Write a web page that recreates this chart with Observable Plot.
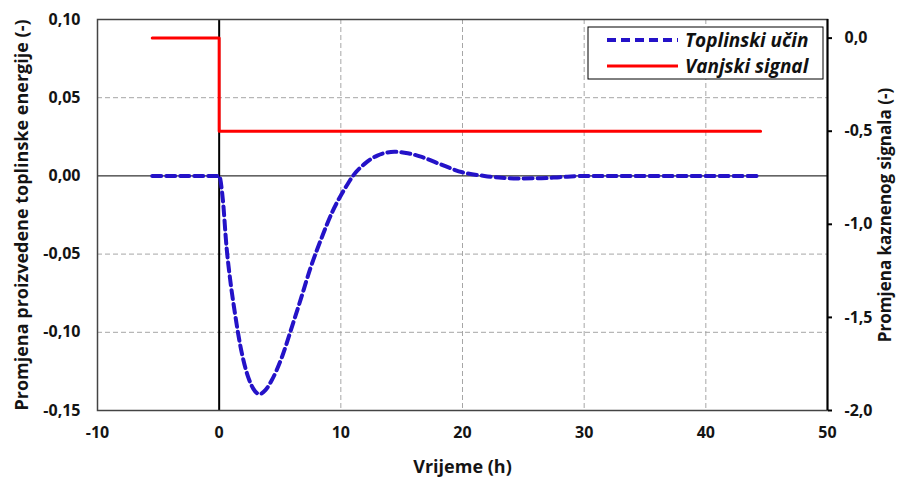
<!DOCTYPE html>
<html>
<head>
<meta charset="utf-8">
<script src="https://cdn.jsdelivr.net/npm/d3@7"></script>
<script src="https://cdn.jsdelivr.net/npm/@observablehq/plot@0.6"></script>
<style>
  html, body { margin: 0; padding: 0; background: #fff; }
  #chart { width: 899px; height: 477px; }
</style>
</head>
<body>
<div id="chart"></div>
<script>
// ---- Data ----
const xTicks = [-10, 0, 10, 20, 30, 40, 50];
const leftTicks = [0.10, 0.05, 0.00, -0.05, -0.10, -0.15];
const rightTicks = [0.0, -0.5, -1.0, -1.5, -2.0];
const leftDomain = [-0.15, 0.10];
const rightDomain = [-2.0, 0.1];

// Toplinski učin (left axis)
const heatTime = [-5.5, 0, 0.3, 0.6, 0.9, 1.3, 1.7, 2.0, 2.4, 2.8, 3.3, 3.8, 4.3, 5.2, 6.0, 6.7, 7.5, 8.4, 9.3, 10.0, 10.5, 11.0, 12.0, 13.0, 14.4, 15.5, 16.5, 18.0, 20.0, 21.8, 23.0, 24.5, 26.5, 28.0, 30.0, 35.0, 40.0, 44.5];
const heatValue = [0, 0, -0.015, -0.045, -0.066, -0.088, -0.107, -0.118, -0.129, -0.136, -0.1395, -0.137, -0.131, -0.115, -0.096, -0.079, -0.059, -0.040, -0.023, -0.0125, -0.006, 0, 0.008, 0.0130, 0.0154, 0.0145, 0.0125, 0.0080, 0.0023, 0, -0.0010, -0.0016, -0.0015, -0.0008, 0, 0, 0, 0];

// Vanjski signal (right axis)
const signalTime = [-5.5, 0, 44.5];
const signalValue = [0.0, -0.5, -0.5];

const legendLabels = ["Toplinski učin", "Vanjski signal"];
const blue = "#2412c8";
const red = "#ff0000";
const font = "'Open Sans', 'Liberation Sans', sans-serif";
const ink = "#141414";

// ---- Build ----
const toLeft = d3.scaleLinear().domain(rightDomain).range(leftDomain);
const toRight = d3.scaleLinear().domain(leftDomain).range(rightDomain);
const comma = (s) => s.replace(".", ",").replace("−", "-");

const heat = heatTime.map((t, i) => ({t, v: heatValue[i]}));
const signal = signalTime.map((t, i) => ({t, v: toLeft(signalValue[i])}));

const svg = Plot.plot({
  width: 899,
  height: 477,
  marginLeft: 97,
  marginRight: 72,
  marginTop: 19,
  marginBottom: 67,
  style: {fontFamily: font, fontSize: "16px", fontWeight: "bold", color: ink, background: "#fff"},
  x: {domain: [-10, 50]},
  y: {domain: leftDomain},
  marks: [
    Plot.gridX([10, 20, 30, 40], {stroke: "#a6a6a6", strokeOpacity: 1, strokeDasharray: "5,3", strokeWidth: 1}),
    Plot.gridY([0.05, -0.05, -0.10], {stroke: "#a6a6a6", strokeOpacity: 1, strokeDasharray: "5,3", strokeWidth: 1}),
    Plot.ruleY([0], {stroke: "#000", strokeWidth: 1}),
    Plot.ruleX([0], {stroke: "#000", strokeWidth: 2}),
    Plot.frame({stroke: "#444", strokeWidth: 1.5}),
    Plot.ruleX([50], {stroke: "#000", strokeWidth: 2}),
    Plot.axisX({ticks: xTicks, tickSize: 0, tickPadding: 16, tickFormat: d => comma(String(d)), label: null, fontSize: 16, fontWeight: "bold", fill: ink}),
    Plot.axisY({ticks: leftTicks, tickSize: 0, tickPadding: 17, tickFormat: d => comma(d3.format(".2f")(d)), label: null, fontSize: 16, fontWeight: "bold", fill: ink}),
    Plot.axisY({anchor: "right", ticks: rightTicks.map(toLeft), tickSize: 4, tickPadding: 13, strokeWidth: 2, stroke: "#000",
      tickFormat: d => comma(d3.format(".1f")(Math.round(toRight(d) * 10) / 10)), label: null, fontSize: 16, fontWeight: "bold", fill: ink}),
    Plot.line(signal, {x: "t", y: "v", stroke: red, strokeWidth: 3, curve: "step-after"}),
    Plot.line(heat, {x: "t", y: "v", stroke: blue, strokeWidth: 4, strokeDasharray: "9,5", curve: "monotone-x"}),
    Plot.text(["Promjena proizvedene toplinske energije (-)"], {frameAnchor: "left", rotate: -90, dx: -75, textAnchor: "middle", lineAnchor: "middle", fontSize: 18, fontWeight: "bold", fill: ink}),
    Plot.text(["Promjena kaznenog signala (-)"], {frameAnchor: "right", rotate: -90, dx: 58, textAnchor: "middle", lineAnchor: "middle", fontSize: 17, fontWeight: "bold", fill: ink}),
    Plot.text(["Vrijeme (h)"], {frameAnchor: "bottom", dy: 57, textAnchor: "middle", lineAnchor: "middle", fontSize: 18, fontWeight: "bold", fill: ink})
  ]
});

// Legend
const s = d3.select(svg);
const g = s.append("g");
g.append("rect").attr("x", 588).attr("y", 27).attr("width", 235).attr("height", 52)
  .attr("fill", "#fff").attr("stroke", "#000").attr("stroke-width", 1);
const rows = [
  {label: legendLabels[0], color: blue, dash: "9,5", w: 4, y: 40},
  {label: legendLabels[1], color: red, dash: null, w: 3, y: 66}
];
rows.forEach(r => {
  const l = g.append("line").attr("x1", 607).attr("x2", 678).attr("y1", r.y).attr("y2", r.y)
    .attr("stroke", r.color).attr("stroke-width", r.w);
  if (r.dash) l.attr("stroke-dasharray", r.dash);
  g.append("text").attr("x", 685).attr("y", r.y).attr("dy", "0.35em")
    .attr("text-anchor", "start")
    .attr("font-family", font).attr("font-size", 19).attr("font-weight", "bold")
    .attr("font-style", "italic").attr("fill", "#111").text(r.label);
});

document.getElementById("chart").appendChild(svg);
</script>
</body>
</html>
